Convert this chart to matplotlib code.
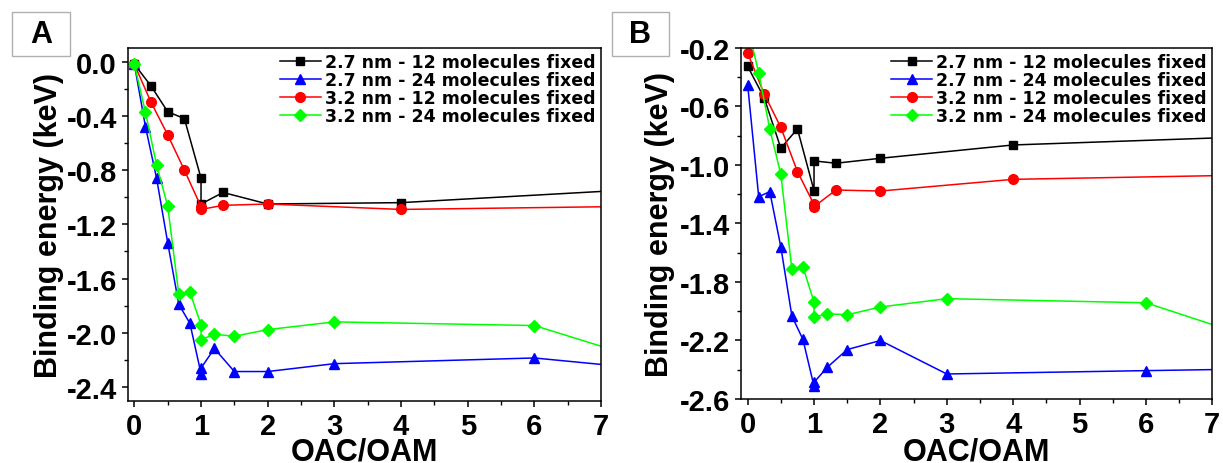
import matplotlib
matplotlib.use("Agg")
import matplotlib.pyplot as plt
from matplotlib.ticker import MultipleLocator, FormatStrFormatter, FixedLocator
from matplotlib.patches import Rectangle

plt.rcParams['axes.unicode_minus'] = False
plt.rcParams['font.family'] = ['Liberation Sans', 'DejaVu Sans']
plt.rcParams['font.weight'] = 'bold'

# ---- data ----
labels = ["2.7 nm - 12 molecules fixed", "2.7 nm - 24 molecules fixed",
          "3.2 nm - 12 molecules fixed", "3.2 nm - 24 molecules fixed"]
x12 = [0, 0.25, 0.5, 0.75, 1, 1, 1.33, 2, 4, 8]
x24 = [0, 1/6, 1/3, 0.5, 2/3, 5/6, 1, 1, 1.2, 1.5, 2, 3, 6, 8]

# Panel A
yA_27_12 = [-0.02, -0.18, -0.37, -0.42, -0.86, -1.05, -0.965, -1.05, -1.04, -0.93]
yA_27_24 = [-0.02, -0.48, -0.86, -1.335, -1.79, -1.93, -2.30, -2.26, -2.115, -2.285, -2.285, -2.227, -2.185, -2.28]
yA_32_12 = [-0.02, -0.30, -0.54, -0.80, -1.07, -1.09, -1.06, -1.05, -1.09, -1.064]
yA_32_24 = [-0.02, -0.374, -0.763, -1.064, -1.717, -1.70, -1.94, -2.05, -2.01, -2.025, -1.976, -1.919, -1.946, -2.25]

# Panel B
yB_27_12 = [-0.325, -0.542, -0.885, -0.753, -1.175, -0.972, -0.988, -0.954, -0.863, -0.80]
yB_27_24 = [-0.45, -1.217, -1.182, -1.56, -2.033, -2.193, -2.513, -2.486, -2.383, -2.262, -2.2, -2.429, -2.406, -2.392]
yB_32_12 = [-0.234, -0.515, -0.743, -1.045, -1.27, -1.285, -1.171, -1.178, -1.098, -1.065]
yB_32_24 = [-0.05, -0.371, -0.753, -1.064, -1.713, -1.697, -1.937, -2.04, -2.017, -2.024, -1.971, -1.914, -1.942, -2.24]

yA_ticks = [0.0, -0.4, -0.8, -1.2, -1.6, -2.0, -2.4]
yB_ticks = [-0.2, -0.6, -1.0, -1.4, -1.8, -2.2, -2.6]
x_ticks = [0, 1, 2, 3, 4, 5, 6, 7]

styles = [dict(color='#000000', marker='s', ms=6),
          dict(color='#0000FF', marker='^', ms=7.5),
          dict(color='#FF0000', marker='o', ms=7),
          dict(color='#00FF00', marker='D', ms=6.5)]

W, H = 1223, 464
fig = plt.figure(figsize=(W/100, H/100), dpi=100)

axA = fig.add_axes([127.7/W, (H-401.7)/H, (601-127.7)/W, (401.7-49)/H])
axB = fig.add_axes([741/W, (H-400)/H, (1212.3-741)/W, (400-49)/H])

def draw(ax, ys, yticks, ylim, ylabelpad, bottom_px):
    for xs, yv, st, lab in zip([x12, x24, x12, x24], ys, styles, labels):
        ax.plot(xs, yv, color=st['color'], marker=st['marker'], ms=st['ms'],
                mec=st['color'], mfc=st['color'], lw=1.1, label=lab)
    ax.set_xlim(-0.1, 7)
    ax.set_ylim(*ylim)
    ax.xaxis.set_major_locator(FixedLocator(x_ticks))
    ax.xaxis.set_minor_locator(MultipleLocator(0.5))
    ax.yaxis.set_major_locator(FixedLocator(yticks))
    ax.yaxis.set_minor_locator(MultipleLocator(0.2))
    ax.yaxis.set_major_formatter(FormatStrFormatter('%.1f'))
    ax.tick_params(which='major', direction='out', length=4.3, width=1.1,
                   labelsize=21, pad=3.5)
    ax.tick_params(which='minor', direction='out', length=2.8, width=1.0)
    for s in ax.spines.values():
        s.set_linewidth(1.1)
    for lbl in ax.get_xticklabels() + ax.get_yticklabels():
        lbl.set_fontweight('bold')
    ax.set_xlabel('OAC/OAM', fontsize=22, fontweight='bold')
    # place x label so its top sits at ~438 px from the figure top
    h_ax = ax.get_position().height * H
    ax.xaxis.set_label_coords(0.5, -(438 - bottom_px) / h_ax)
    ax.set_ylabel('Binding energy (keV)', fontsize=22, fontweight='bold', labelpad=ylabelpad)
    ax.legend(loc='upper right', frameon=False, borderpad=0, borderaxespad=0.3,
              labelspacing=0.0, handlelength=2.35, handletextpad=0.25,
              prop=dict(family='DejaVu Sans', weight='bold', size=12.5))

draw(axA, [yA_27_12, yA_27_24, yA_32_12, yA_32_24], yA_ticks, (-2.5, 0.1), 1.5, 401.7)
draw(axB, [yB_27_12, yB_27_24, yB_32_12, yB_32_24], yB_ticks, (-2.6, -0.2), 3.5, 400)

# panel letter boxes
for (x0, x1, letter) in [(11.7, 70, 'A'), (611.7, 669.3, 'B')]:
    y0, y1 = 13.3, 57.3
    fig.patches.append(Rectangle((x0/W, 1-y1/H), (x1-x0)/W, (y1-y0)/H,
                                 transform=fig.transFigure, fill=True,
                                 facecolor='white', edgecolor='#b0b0b0', lw=1.0))
    fig.text((x0+x1)/2/W, 1-(y0+y1)/2/H, letter, ha='center', va='center',
             fontsize=22, fontweight='bold')

fig.savefig('out.png', dpi=100)
